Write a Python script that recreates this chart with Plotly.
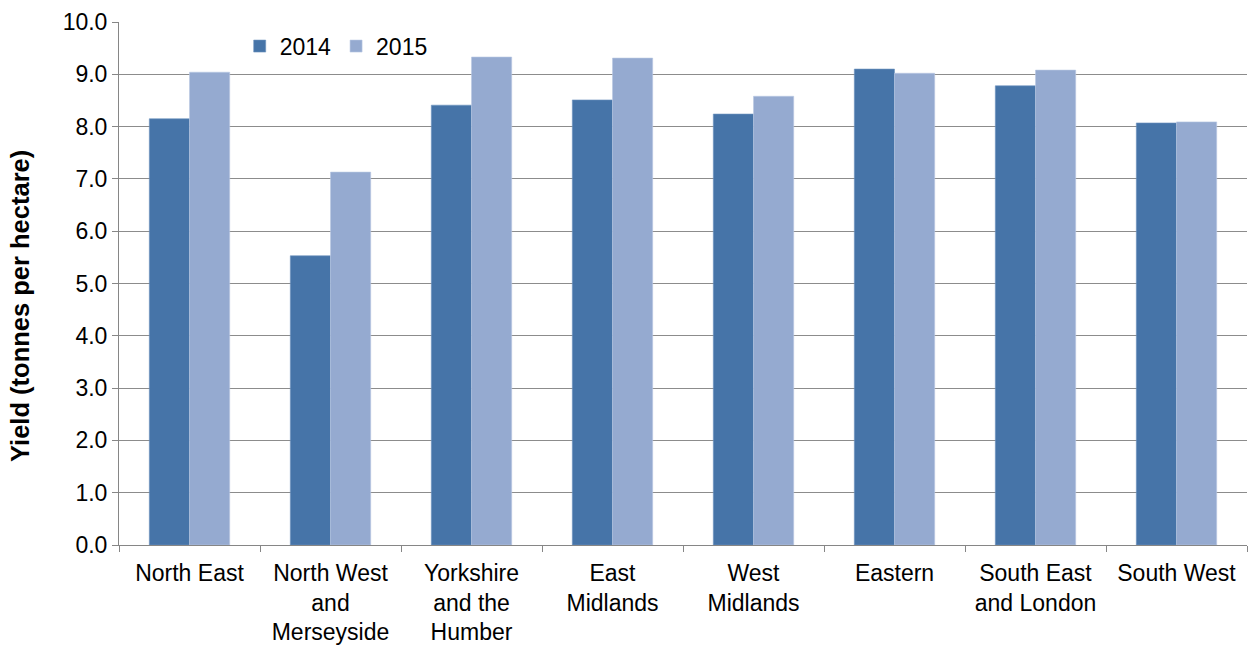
import plotly.graph_objects as go

regions = ["North East", "North West<br>and<br>Merseyside", "Yorkshire<br>and the<br>Humber",
           "East<br>Midlands", "West<br>Midlands", "Eastern", "South East<br>and London", "South West"]
yield_2014 = [8.15, 5.53, 8.41, 8.51, 8.24, 9.10, 8.78, 8.07]
yield_2015 = [9.04, 7.13, 9.33, 9.31, 8.58, 9.02, 9.08, 8.09]
y_ticks = [0, 1, 2, 3, 4, 5, 6, 7, 8, 9, 10]

font_family = "Liberation Sans, Arial, sans-serif"

fig = go.Figure()
fig.add_trace(go.Bar(name="2014", x=regions, y=yield_2014,
                     marker=dict(color="#4674A8", line=dict(color="#6F93BF", width=0.6))))
fig.add_trace(go.Bar(name="2015", x=regions, y=yield_2015,
                     marker=dict(color="#95AAD0", line=dict(color="#B9C8E2", width=0.6))))

# Vertical axis title, placed as a rotated annotation left of the tick labels
fig.add_annotation(text="<b>Yield (tonnes per hectare)</b>", textangle=-90,
                   xref="paper", yref="paper", x=0, y=0.457,
                   xanchor="center", yanchor="middle", xshift=-99,
                   showarrow=False, font=dict(size=25.5, family=font_family, color="#000000"))

fig.update_layout(
    width=1250, height=648,
    barmode="group", bargap=0.43, bargroupgap=0,
    plot_bgcolor="white", paper_bgcolor="white",
    margin=dict(l=119, r=3, t=22, b=103),
    font=dict(family=font_family, size=23, color="#000000"),
    legend=dict(orientation="h", x=0.107, y=0.995, xanchor="left", yanchor="top",
                font=dict(size=23), itemwidth=30, traceorder="normal",
                bgcolor="rgba(0,0,0,0)"),
    xaxis=dict(showline=True, linecolor="#868686", linewidth=1,
               ticks="outside", ticklen=6, tickcolor="#868686", tickson="boundaries",
               tickfont=dict(size=23), ticklabelstandoff=7),
    yaxis=dict(range=[0, 10], tickvals=y_ticks, tickformat=".1f",
               showgrid=True, gridcolor="#8C8C8C", gridwidth=1,
               showline=True, linecolor="#868686", linewidth=1,
               ticks="outside", ticklen=6, tickcolor="#868686",
               tickfont=dict(size=23), zeroline=False),
)

fig.write_html("out.html")
